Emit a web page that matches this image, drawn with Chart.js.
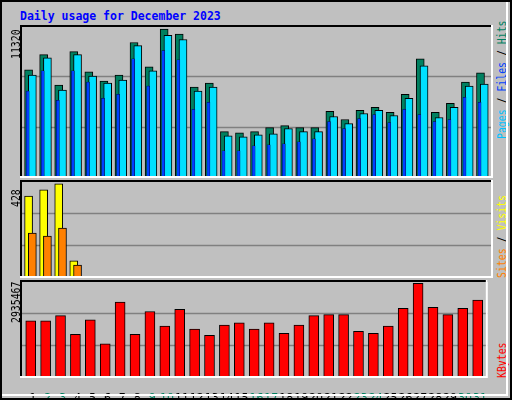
<!DOCTYPE html>
<html><head><meta charset="utf-8">
<script src="https://cdn.jsdelivr.net/npm/chart.js@4/dist/chart.umd.min.js"></script>
<style>
html,body{margin:0;padding:0;background:#fff;}
#wrap{position:absolute;left:0;top:0;width:508px;height:396px;background:#C0C0C0;border:2px solid #000;overflow:hidden;}
#wrap:after{content:"";position:absolute;left:0;top:0;width:504px;height:392px;border-right:2px solid #fff;border-bottom:2px solid #fff;pointer-events:none;}
.c{position:absolute;}
.t{position:absolute;font-family:"DejaVu Sans Mono",monospace;font-size:11px;white-space:nowrap;}
.rot{transform-origin:0 0;transform:rotate(-90deg) scale(0.82,1);}
</style></head><body>
<div id="wrap">
<div class="t" style="left:18px;top:7px;color:#0000FF;font-weight:bold;font-size:11.5px;">Daily usage for December 2023</div>
<div class="c" style="left:18px;top:23px;width:473px;height:153px;"><canvas id="c1"></canvas></div>
<div class="c" style="left:18px;top:178px;width:473px;height:98px;"><canvas id="c2"></canvas></div>
<div class="c" style="left:18px;top:278px;width:473px;height:120px;"><canvas id="c3"></canvas></div>
<div class="t rot" style="left:7px;top:57px;color:#000;font-size:12px;">11320</div>
<div class="t rot" style="left:7px;top:205px;color:#000;font-size:12px;">428</div>
<div class="t rot" style="left:7px;top:321px;color:#000;font-size:12px;">2935467</div>
<div class="t rot" style="left:493px;top:137px;font-size:12px;"><span style="color:#00C0FF">Pages</span><span style="color:#000"> / </span><span style="color:#0040FF">Files</span><span style="color:#000"> / </span><span style="color:#008060">Hits</span></div>
<div class="t rot" style="left:493px;top:276px;font-size:12px;"><span style="color:#FF8000">Sites</span><span style="color:#000"> / </span><span style="color:#FFFF00">Visits</span></div>
<div class="t rot" style="left:493px;top:376px;font-size:12px;color:#FF0000">KBytes</div>
</div>
<script>
const days=[1,2,3,4,5,6,7,8,9,10,11,12,13,14,15,16,17,18,19,20,21,22,23,24,25,26,27,28,29,30,31];
const hits=[8216,9371,7061,9602,8062,7369,7831,10295,8447,11320,10934,6907,7215,3519,3442,3519,3827,3981,3827,3827,5059,4443,5136,5367,4982,6368,9063,4982,5675,7292,7985];
const files=[7831,9140,6676,9371,7754,7215,7446,10064,8139,10834,10526,6599,6907,3211,3134,3288,3365,3750,3519,3519,4674,4135,4905,5136,4751,6060,8524,4597,5367,6984,7138];
const pages=[6599,8139,5906,8139,7292,6060,6368,9063,6984,9679,8986,5213,5752,2056,2056,2441,2518,2595,2749,2980,4289,3750,4520,4828,4212,5213,4828,4289,4443,6137,5752];
const visits=[372,400,428,78,1,2,1,1,1,1,2,1,2,2,1,1,2,1,1,2,2,2,1,1,2,2,1,1,2,1,2];
const sites=[204,190,227,59,1,1,1,1,1,1,1,1,1,1,1,1,1,1,1,1,1,1,1,1,1,1,1,1,1,1,1];
const kbytes=[1774200,1774200,1935500,1354800,1806400,1064500,2354800,1354800,2064500,1612900,2129000,1516100,1322600,1645200,1709700,1516100,1709700,1387100,1645200,1935500,1967700,1967700,1451600,1387100,1612900,2161300,2935467,2193500,1967700,2161300,2419400];
const weekend=[2,3,9,10,16,17,23,24,30,31];
const XMIN=0.40, XMAX=31.80;
const pts=(arr,off)=>arr.map((v,i)=>({x:days[i]+off,y:v}));
const frame={id:'frame',beforeDatasetsDraw(ch){const a=ch.chartArea,c=ch.ctx,y=ch.scales.y;c.save();c.strokeStyle='#808080';c.lineWidth=1.5;
 [1/3,2/3].forEach(f=>{const p=Math.round(y.getPixelForValue(y.max*f))+0.5;c.beginPath();c.moveTo(a.left,p);c.lineTo(a.right,p);c.stroke();});c.restore();},
 afterDraw(ch){const a=ch.chartArea,c=ch.ctx;c.save();c.lineWidth=2;c.strokeStyle='#000';c.beginPath();c.moveTo(a.left+1,a.bottom);c.lineTo(a.left+1,a.top+1);c.lineTo(a.right,a.top+1);c.stroke();
 c.strokeStyle='#fff';c.beginPath();c.moveTo(a.right-1,a.top);c.lineTo(a.right-1,a.bottom-1);c.lineTo(a.left,a.bottom-1);c.stroke();c.restore();}};
function mk(id,datasets,ymax,withLabels){
 const scales={x:{type:'linear',offset:false,min:XMIN,max:XMAX,display:false},y:{min:0,max:ymax,display:false}};
 if(withLabels){scales.xl={type:'linear',offset:false,position:'bottom',min:XMIN-0.27,max:XMAX-0.27,grid:{display:false},border:{display:false},
  afterBuildTicks:s=>{s.ticks=days.map(d=>({value:d}));},afterFit:s=>{s.height=22;},
  ticks:{autoSkip:false,maxRotation:0,minRotation:0,padding:6,font:{family:'DejaVu Sans',size:11},color:c=>weekend.includes(c.tick.value)?'#008060':'#000',callback:v=>String(v)}};}
 return new Chart(document.getElementById(id),{type:'bar',data:{datasets},plugins:[frame],
  options:{responsive:true,maintainAspectRatio:false,animation:false,layout:{padding:0},plugins:{legend:{display:false},tooltip:{enabled:false}},scales}});
}
const bw={grouped:false,borderColor:'#000',borderWidth:1,borderSkipped:false};
mk('c1',[
 {...bw,data:pts(hits,-0.03),backgroundColor:'#008060',barThickness:8,order:3},
 {...bw,data:pts(files,0.22),backgroundColor:'#00E0FF',barThickness:8,order:2},
 {grouped:false,data:pts(pages,-0.09),backgroundColor:'#0040FF',borderColor:'#000030',borderWidth:0.5,barThickness:3,order:1}
],11628,false);
mk('c2',[
 {...bw,data:pts(visits,-0.03),backgroundColor:'#FFFF00',barThickness:8,order:2},
 {...bw,data:pts(sites,0.22),backgroundColor:'#FF8000',barThickness:8,order:1}
],445,false);
mk('c3',[{...bw,data:pts(kbytes,0.12),backgroundColor:'#FF0000',barThickness:10}],3041900,true);
</script></body></html>
